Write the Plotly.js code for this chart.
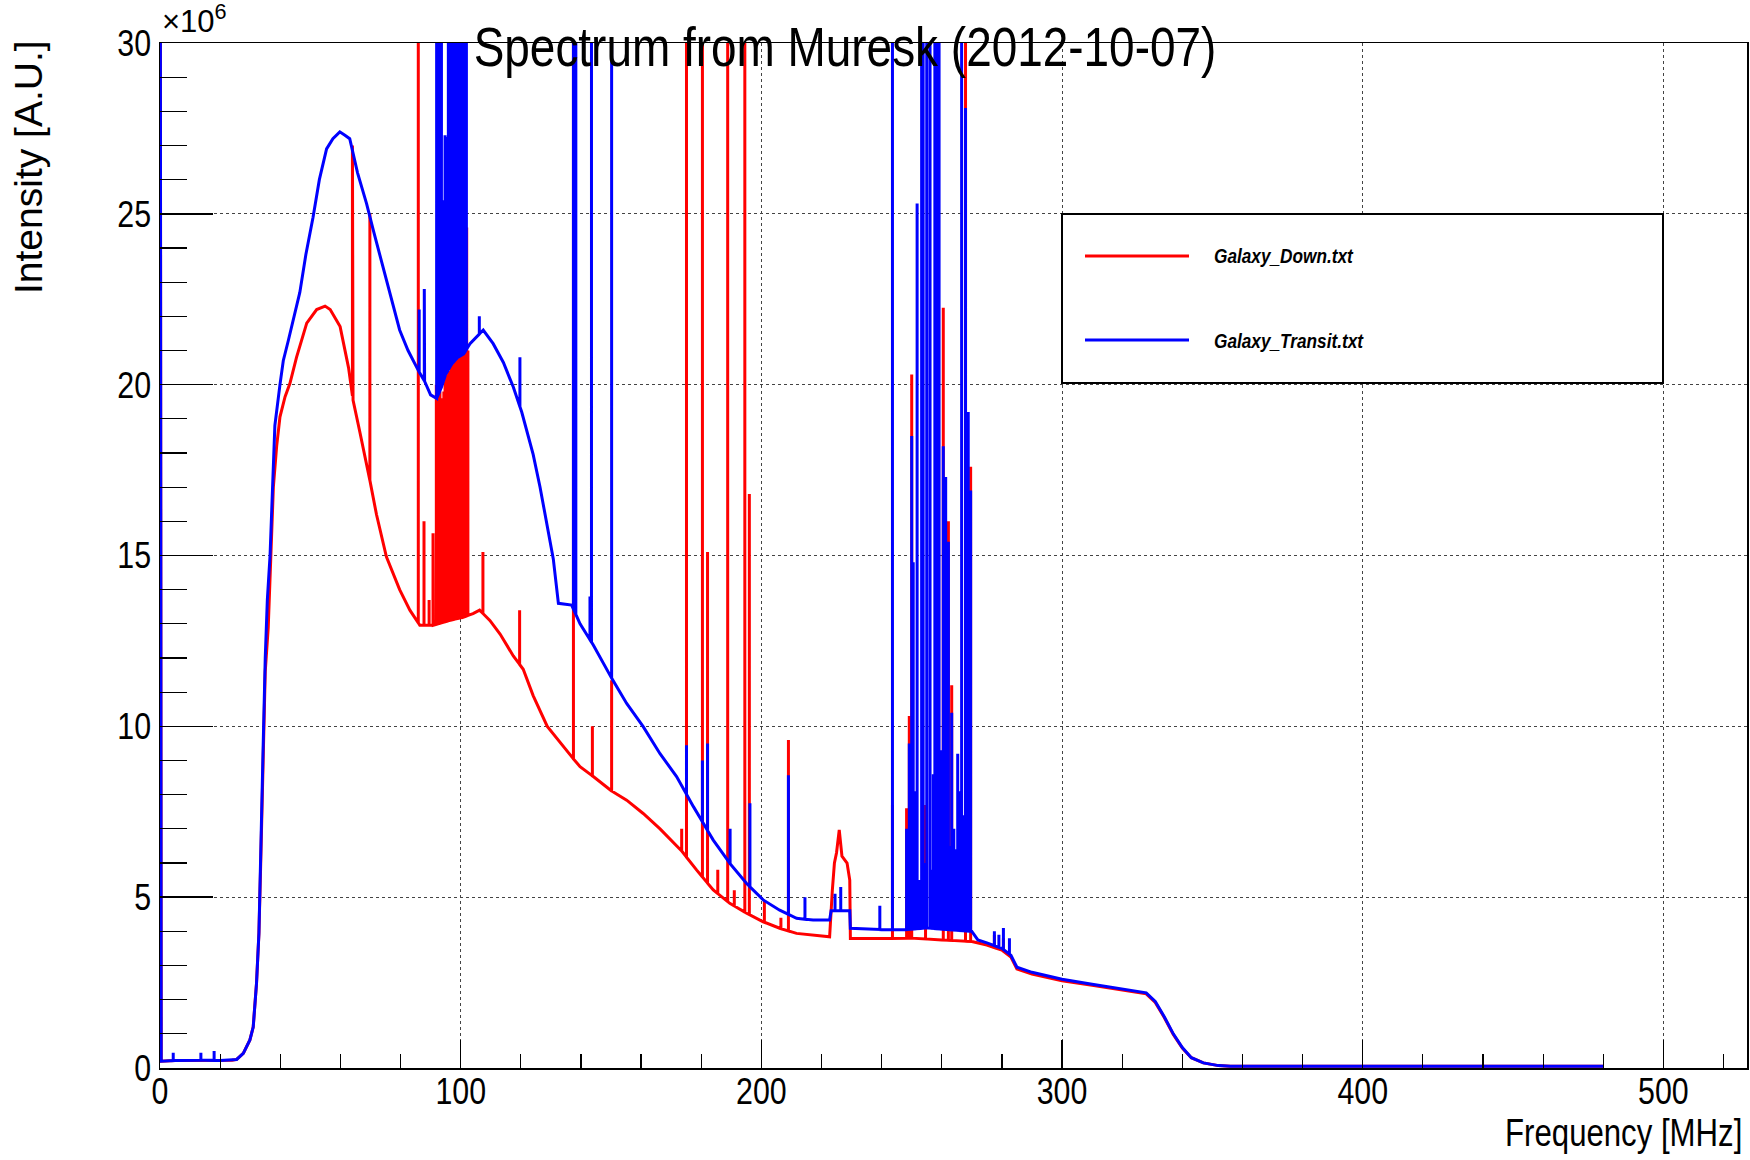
<!DOCTYPE html>
<html>
<head>
<meta charset="utf-8">
<script src="https://cdn.plot.ly/plotly-3.0.1.min.js"></script>
<style>
  html, body { margin: 0; padding: 0; background: #ffffff; }
  #chart { width: 1750px; height: 1160px; }
</style>
</head>
<body>
<div id="chart"></div>
<script>
// ---------------- DATA ----------------
const chartTitle = "Spectrum from Muresk (2012-10-07)";
const xAxisTitle = "Frequency [MHz]";
const yAxisTitle = "Intensity [A.U.]";
const seriesNames = ["Galaxy_Down.txt", "Galaxy_Transit.txt"];
const xTickVals = [0, 100, 200, 300, 400, 500];
const xTickText = ["0", "100", "200", "300", "400", "500"];
const yTickVals = [0, 5, 10, 15, 20, 25, 30];
const yTickText = ["0", "5", "10", "15", "20", "25", "30"];

// Galaxy_Transit.txt : smooth continuum (MHz, intensity x10^6)
const freqTransit = [0, 0.4, 5, 10, 15, 20, 24, 25.5, 27.7, 29.9, 31.0, 32.1, 32.9, 33.5, 34.2, 35.0, 35.7, 36.6, 37.5, 38.2, 39.9, 41.0, 42.7, 44.3, 46.5, 48.5, 50.9, 53, 55.4, 57.5, 59.8, 61.5, 63.1, 65.7, 68.7, 71, 74.2, 77, 79.7, 82.5, 85.3, 88, 90.0, 92.0, 93.5, 95.0, 97, 99.0, 101.0, 103.1, 105.3, 107.5, 110.8, 114.2, 117.5, 120.3, 121.9, 124.1, 126.4, 128.6, 130.8, 132.5, 136.9, 139.7, 144.1, 149.6, 155.2, 160.7, 166.3, 171.8, 177.4, 184.0, 189.5, 195.1, 200.6, 206.1, 211.7, 217.2, 222.7, 223.2, 229.4, 229.6, 240, 248, 255, 262, 270, 272, 275, 280, 283, 285, 290, 300, 310, 317, 325, 328, 331, 334, 337, 340, 343, 347, 352, 356, 400, 440, 480];
const intensityTransit = [45, 0.2, 0.22, 0.22, 0.23, 0.22, 0.23, 0.25, 0.43, 0.82, 1.2, 2.48, 3.94, 6.0, 9.0, 12.0, 13.7, 15.0, 17.3, 18.8, 20.0, 20.7, 21.3, 21.9, 22.7, 23.8, 24.9, 26.0, 26.9, 27.2, 27.4, 27.3, 27.2, 26.2, 25.3, 24.5, 23.45, 22.5, 21.6, 21.0, 20.5, 20.1, 19.7, 19.6, 19.9, 20.3, 20.6, 20.8, 20.9, 21.2, 21.4, 21.6, 21.2, 20.65, 19.93, 19.2, 18.7, 17.96, 17.0, 16.0, 14.9, 13.6, 13.55, 13.0, 12.38, 11.5, 10.67, 9.99, 9.2, 8.53, 7.65, 6.67, 5.99, 5.4, 4.92, 4.62, 4.38, 4.33, 4.33, 4.6, 4.6, 4.09, 4.05, 4.05, 4.1, 4.05, 4.0, 3.75, 3.66, 3.5, 3.3, 2.95, 2.8, 2.6, 2.45, 2.35, 2.25, 2.2, 1.95, 1.5, 1.0, 0.6, 0.3, 0.15, 0.07, 0.05, 0.05, 0.05, 0.05];
// Galaxy_Transit.txt : narrow interference spikes (MHz, peak)
const spikeFreqTransit = [4.4, 13.6, 18.0, 86.2, 87.9, 92.0, 92.8, 93.6, 94.3, 94.8, 95.3, 95.9, 96.3, 96.7, 97.1, 97.5, 97.9, 98.3, 98.7, 99.1, 99.5, 99.9, 100.3, 100.7, 101.1, 101.5, 101.9, 106.2, 119.7, 137.5, 138.3, 143.0, 143.5, 150.2, 175.1, 180.4, 182.1, 189.6, 196.2, 209.0, 214.5, 224.5, 226.4, 239.4, 243.6, 248.3, 249.2, 250.0, 250.5, 251.3, 251.8, 252.5, 253.3, 253.8, 254.3, 255.0, 256.1, 256.7, 257.2, 257.7, 258.5, 259.1, 259.6, 260.0, 260.5, 261.3, 261.8, 262.2, 262.7, 263.3, 264.0, 264.7, 265.3, 265.6, 266.0, 266.6, 267.4, 267.9, 268.5, 268.8, 269.6, 277.5, 279.0, 280.5, 282.5];
const spikePeakTransit = [0.45, 0.45, 0.5, 22.2, 22.8, 30, 30, 30, 25.4, 27.3, 27.25, 30, 30, 30, 30, 30, 30, 30, 30, 30, 30, 30, 30, 30, 30, 30, 30, 22.0, 20.8, 30, 30, 13.8, 30, 30, 9.45, 9.0, 9.5, 7.0, 7.75, 8.57, 5.0, 5.1, 5.3, 4.75, 30, 7.0, 9.5, 18.5, 14.8, 8.1, 25.3, 5.5, 30, 30, 6.0, 30, 30, 5.8, 8.6, 30, 30, 30, 6.2, 9.3, 18.2, 17.3, 5.5, 15.4, 6.5, 10.4, 7.0, 6.4, 9.2, 5.7, 8.1, 30, 7.4, 28.1, 8.9, 19.2, 16.9, 4.0, 3.9, 4.1, 3.8];

// Galaxy_Down.txt : smooth continuum
const freqDown = [0, 0.4, 5, 10, 15, 20, 24, 25.5, 27.7, 29.9, 31.0, 32.1, 32.9, 33.5, 34.2, 35.0, 36.0, 37.0, 37.7, 38.8, 39.9, 41.6, 43.2, 45.4, 48.8, 52.1, 54.9, 56.6, 59.9, 62.7, 64.2, 66.5, 68.7, 72.0, 75.3, 79.7, 83.1, 86.4, 90.9, 96.3, 101.0, 104.1, 106.3, 109.7, 113.1, 117.5, 120.8, 124.1, 128.8, 133.0, 136.9, 139.7, 144.1, 149.6, 155.2, 160.7, 166.3, 172.8, 178.5, 184.0, 189.5, 195.1, 200.6, 206.1, 211.7, 217.2, 222.7, 223.6, 224.3, 225.0, 225.9, 226.8, 227.6, 228.5, 229.4, 229.6, 240, 250, 260, 270, 275, 280, 283, 285, 290, 300, 310, 317, 325, 328, 331, 334, 337, 340, 343, 347, 352, 356, 400, 440, 480];
const intensityDown = [45, 0.2, 0.22, 0.22, 0.23, 0.22, 0.23, 0.25, 0.43, 0.82, 1.2, 2.48, 3.94, 6.0, 9.0, 11.6, 12.9, 15.5, 17.0, 18.2, 19.06, 19.65, 20.03, 20.8, 21.8, 22.2, 22.3, 22.2, 21.7, 20.5, 19.55, 18.6, 17.7, 16.2, 14.96, 14.0, 13.4, 12.96, 12.96, 13.1, 13.2, 13.3, 13.4, 13.1, 12.7, 12.06, 11.67, 10.9, 10.0, 9.55, 9.11, 8.82, 8.53, 8.14, 7.84, 7.45, 7.0, 6.43, 5.79, 5.21, 4.82, 4.53, 4.28, 4.09, 3.94, 3.89, 3.84, 5.2, 6.0, 6.3, 6.97, 6.2, 6.1, 6.0, 5.5, 3.79, 3.79, 3.8, 3.75, 3.7, 3.6, 3.45, 3.25, 2.9, 2.75, 2.55, 2.42, 2.32, 2.22, 2.17, 1.92, 1.48, 0.98, 0.58, 0.3, 0.15, 0.07, 0.05, 0.05, 0.05, 0.05];
// Galaxy_Down.txt : narrow interference spikes
const spikeFreqDown = [64.0, 69.8, 85.9, 87.8, 89.5, 90.8, 91.9, 92.3, 92.7, 93.1, 93.5, 94.0, 94.4, 94.8, 95.2, 95.6, 96.0, 96.4, 96.8, 97.2, 97.6, 98.0, 98.4, 98.8, 99.2, 99.6, 100.0, 100.4, 100.8, 101.2, 101.6, 102.0, 102.4, 107.4, 119.6, 137.5, 143.8, 150.2, 173.5, 175.1, 180.4, 182.1, 185.5, 188.8, 191.0, 194.5, 196.0, 201.0, 206.5, 209.0, 243.6, 248.3, 249.2, 250.0, 254.6, 260.5, 262.2, 263.3, 267.9, 269.6, 277.5, 280.5];
const spikePeakDown = [27.0, 25.0, 30, 16.0, 13.7, 15.65, 20.0, 19.8, 19.7, 19.8, 19.6, 15.3, 19.8, 20.1, 20.2, 20.3, 20.4, 20.4, 20.5, 20.6, 20.6, 20.7, 20.7, 20.8, 20.8, 20.9, 20.9, 20.9, 21.0, 21.0, 21.0, 24.6, 21.0, 15.1, 13.4, 30, 10.0, 11.35, 7.0, 30, 30, 15.1, 5.8, 30, 5.2, 30, 16.8, 4.9, 4.4, 9.6, 7.7, 7.6, 10.3, 20.3, 7.7, 22.25, 16.0, 11.2, 30, 17.6, 3.9, 3.8];

// ---------------- build line geometry from the arrays ----------------
function baseAt(bx, by, f) {
  for (let j = 0; j < bx.length - 1; j++) {
    if (f >= bx[j] && f <= bx[j + 1]) {
      const t = (f - bx[j]) / (bx[j + 1] - bx[j]);
      return by[j] + t * (by[j + 1] - by[j]);
    }
  }
  return by[by.length - 1];
}
function buildSeries(bx, by, sx, sy) {
  const items = [];
  bx.forEach((x, i) => items.push({ x: x, pts: [[x, by[i]]] }));
  sx.forEach((f, i) => {
    const b = baseAt(bx, by, f);
    items.push({ x: f, pts: [[f, b], [f, sy[i]], [f, b]] });
  });
  items.sort((a, b) => a.x - b.x);
  const X = [], Y = [];
  items.forEach(it => it.pts.forEach(p => { X.push(p[0]); Y.push(p[1]); }));
  return { x: X, y: Y };
}

const down = buildSeries(freqDown, intensityDown, spikeFreqDown, spikePeakDown);
const transit = buildSeries(freqTransit, intensityTransit, spikeFreqTransit, spikePeakTransit);

const FONT = "'Liberation Sans', Arial, Helvetica, sans-serif";

const traces = [
  { type: 'scatter', mode: 'lines', name: seriesNames[0], x: down.x, y: down.y,
    line: { color: '#ff0000', width: 3 }, showlegend: false, hoverinfo: 'x+y' },
  { type: 'scatter', mode: 'lines', name: seriesNames[1], x: transit.x, y: transit.y,
    line: { color: '#0000ff', width: 3 }, showlegend: false, hoverinfo: 'x+y' }
];

// plot frame in pixels: left 160, right 1747, top 43, bottom 1068
const L = 160, R = 1747, T = 43, B = 1068;
const PW = R - L, PH = B - T;
const px = v => (v - L) / PW;
const py = v => (B - v) / PH;

const layout = {
  width: 1750, height: 1160,
  margin: { l: L, r: 1750 - R, t: T, b: 1160 - B, pad: 0 },
  paper_bgcolor: '#ffffff', plot_bgcolor: '#ffffff',
  title: { text: chartTitle, xref: 'container', yref: 'container',
           x: 845 / 1750, xanchor: 'center', y: 1 - 46 / 1160, yanchor: 'middle',
           font: { family: FONT, size: 56, color: '#000000' } },
  xaxis: {
    range: [0, 527.8], tickmode: 'array', tickvals: xTickVals, ticktext: xTickText,
    ticks: 'inside', ticklen: 28, tickwidth: 1.5, tickcolor: '#000000',
    showline: true, linecolor: '#000000', linewidth: 1.5, mirror: true,
    showgrid: true, gridcolor: '#444444', griddash: 'dot', gridwidth: 1,
    zeroline: false, ticklabelstandoff: -10,
    tickfont: { family: FONT, size: 37, color: '#000000' },
    minor: { tickmode: 'linear', tick0: 0, dtick: 20, ticks: 'inside', ticklen: 14,
             tickwidth: 1.2, tickcolor: '#000000', showgrid: false }
  },
  yaxis: {
    range: [0, 30], tickmode: 'array', tickvals: yTickVals, ticktext: yTickText,
    ticks: 'inside', ticklen: 53, tickwidth: 1.5, tickcolor: '#000000',
    showline: true, linecolor: '#000000', linewidth: 1.5, mirror: true,
    showgrid: true, gridcolor: '#444444', griddash: 'dot', gridwidth: 1,
    zeroline: false, ticklabelstandoff: 0,
    tickfont: { family: FONT, size: 37, color: '#000000' },
    minor: { tickmode: 'linear', tick0: 0, dtick: 1, ticks: 'inside', ticklen: 27,
             tickwidth: 1.2, tickcolor: '#000000', showgrid: false }
  },
  shapes: [
    { type: 'rect', xref: 'paper', yref: 'paper', x0: px(1062), x1: px(1663), y0: py(383), y1: py(214),
      line: { color: '#000000', width: 2 }, fillcolor: '#ffffff', layer: 'above' },
    { type: 'line', xref: 'paper', yref: 'paper', x0: px(1085), x1: px(1189), y0: py(256), y1: py(256),
      line: { color: '#ff0000', width: 3 }, layer: 'above' },
    { type: 'line', xref: 'paper', yref: 'paper', x0: px(1085), x1: px(1189), y0: py(340), y1: py(340),
      line: { color: '#0000ff', width: 3 }, layer: 'above' }
  ],
  annotations: [
    { text: seriesNames[0], xref: 'paper', yref: 'paper', x: px(1212), y: py(256),
      xanchor: 'left', yanchor: 'middle', align: 'left', showarrow: false,
      font: { family: FONT, size: 21, color: '#000000', weight: 'bold', style: 'italic' } },
    { text: seriesNames[1], xref: 'paper', yref: 'paper', x: px(1212), y: py(340),
      xanchor: 'left', yanchor: 'middle', align: 'left', showarrow: false,
      font: { family: FONT, size: 21, color: '#000000', weight: 'bold', style: 'italic' } },
    { text: xAxisTitle, xref: 'paper', yref: 'paper', x: px(1744), y: py(1133),
      xanchor: 'right', yanchor: 'middle', align: 'right', showarrow: false,
      font: { family: FONT, size: 38, color: '#000000' } },
    { text: yAxisTitle, xref: 'paper', yref: 'paper', x: px(28), y: py(167), textangle: -90,
      xanchor: 'center', yanchor: 'middle', showarrow: false,
      font: { family: FONT, size: 39, color: '#000000' } },
    { text: '×10<sup>6</sup>', xref: 'paper', yref: 'paper', x: 0, y: py(41),
      xanchor: 'left', yanchor: 'bottom', showarrow: false,
      font: { family: FONT, size: 31, color: '#000000' } }
  ]
};

// The reference uses a horizontally condensed Helvetica; condense horizontal texts.
function condense(gd) {
  const f = 0.82;
  const els = gd.querySelectorAll('g.xtick text, g.ytick text, text.gtitle, text.annotation-text');
  els.forEach(el => {
    const txt = el.textContent;
    if (txt === yAxisTitle || el.querySelector('tspan')) return;
    const w = el.getComputedTextLength();
    if (!w) return;
    el.setAttribute('lengthAdjust', 'spacingAndGlyphs');
    el.setAttribute('textLength', (w * f).toFixed(2));
  });
}

Plotly.newPlot('chart', traces, layout, { displayModeBar: false, staticPlot: true })
  .then(gd => condense(gd));
</script>
</body>
</html>
